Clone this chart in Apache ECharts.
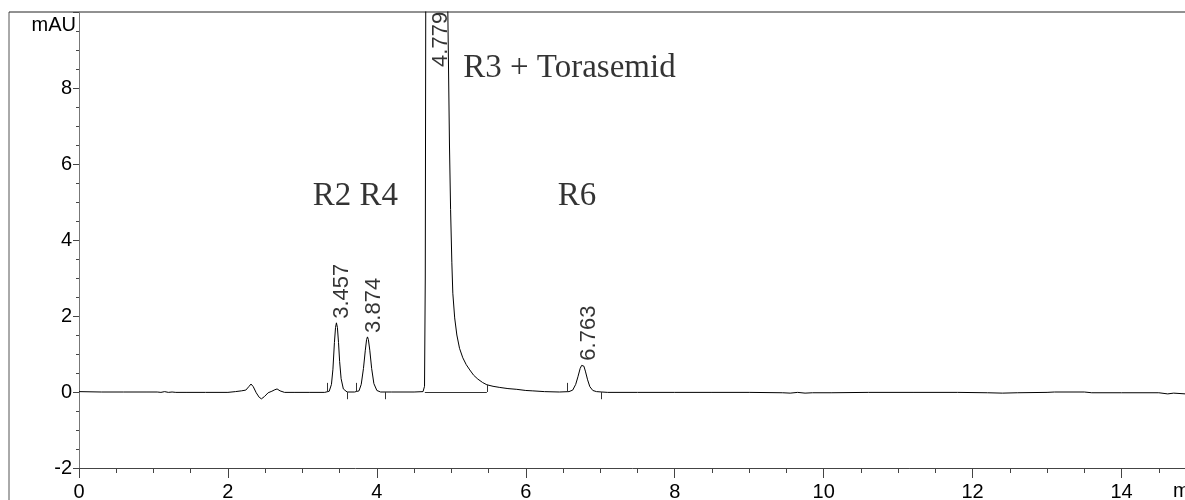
<!DOCTYPE html>
<html><head><meta charset="utf-8">
<script src="https://cdn.jsdelivr.net/npm/echarts@6/dist/echarts.min.js"></script>
<style>html,body{margin:0;padding:0;background:#fff}#c{width:1185px;height:500px}</style>
</head><body><div id="c"></div>
<script>
// Chromatogram trace (time in min, signal in mAU)
const traceTime = [0,0.3,0.6,0.9,1.05,1.1,1.15,1.2,1.25,1.3,1.45,1.7,2.0,2.1,2.18,2.24,2.28,2.31,2.34,2.38,2.42,2.45,2.49,2.54,2.59,2.63,2.66,2.70,2.76,2.9,3.1,3.3,
  3.36,3.39,3.41,3.43,3.445,3.457,3.47,3.485,3.50,3.52,3.55,3.60,3.70,
  3.76,3.79,3.82,3.845,3.862,3.874,3.886,3.905,3.93,3.96,4.00,4.05,4.2,4.5,
  4.62,4.64,4.65,4.66,4.72,4.779,4.85,4.92,4.953,4.975,4.99,5.007,5.02,5.045,5.074,5.11,5.154,5.2,5.248,5.3,5.356,5.42,5.477,5.56,5.651,5.76,5.879,6.0,6.094,6.25,6.45,
  6.58,6.63,6.67,6.70,6.73,6.75,6.763,6.78,6.80,6.83,6.86,6.9,6.95,7.02,7.1,
  7.5,8.0,8.5,9.0,9.45,9.55,9.65,9.75,9.85,10.1,10.6,11.2,11.8,12.2,12.4,12.6,13.0,13.1,13.5,13.6,14.0,14.5,14.62,14.7,14.86];
const traceSignal = [0.01,0,0,0,0,-0.01,0.01,-0.01,0,-0.01,-0.01,-0.01,-0.01,0.01,0.03,0.05,0.14,0.21,0.14,-0.02,-0.14,-0.18,-0.12,-0.02,0.02,0.06,0.08,0.03,-0.01,-0.01,-0.01,-0.01,
  0.02,0.2,0.6,1.3,1.7,1.82,1.7,1.3,0.8,0.35,0.08,0,0,
  0.03,0.2,0.62,1.1,1.38,1.45,1.38,1.1,0.62,0.22,0.04,0,0,0,
  0.01,0.15,3,14,45,55,40,16,10,6.5,4.8,3.4,2.6,1.95,1.5,1.15,0.9,0.72,0.58,0.44,0.34,0.25,0.19,0.15,0.12,0.09,0.07,0.04,0.03,0.01,0,
  0.01,0.05,0.2,0.4,0.62,0.70,0.72,0.68,0.55,0.32,0.14,0.04,0.01,0,-0.01,
  -0.01,-0.01,-0.01,-0.01,-0.02,-0.03,-0.01,-0.03,-0.02,-0.02,-0.01,-0.01,-0.01,-0.02,-0.03,-0.02,-0.01,0,0,-0.02,-0.02,-0.02,-0.05,-0.03,-0.05];

// Peak retention-time labels
const peakTimes = [3.457, 3.874, 4.779, 6.763];
const peakLabelY = [1.82, 1.45, 8.45, 0.72];

// Compound annotations
const annotationText = ['R2 R4', 'R3 + Torasemid', 'R6'];
const annotationTime = [3.14, 5.16, 6.43];
const annotationY = [5.15, 8.53, 5.15];

// Integration markers
const startTickTimes = [3.34, 3.72, 6.55];
const endTickTimes = [3.60, 4.11, 7.01];
const mainBaseStart = 4.644, mainBaseEnd = 5.477, mainBaseEndY = 0.19;

// Axes
const xMin = 0, xMax = 15, xInterval = 2;
const yMin = -2, yMax = 10, yInterval = 2;

const trace = traceTime.map((t, i) => [t, traceSignal[i]]);
const markSegs = [];
startTickTimes.forEach(t => markSegs.push([{coord: [t, 0]}, {coord: [t, 0.24]}]));
endTickTimes.forEach(t => markSegs.push([{coord: [t, 0]}, {coord: [t, -0.19]}]));
markSegs.push([{coord: [mainBaseStart, 0]}, {coord: [mainBaseEnd, 0]}]);
markSegs.push([{coord: [mainBaseEnd, 0]}, {coord: [mainBaseEnd, mainBaseEndY]}]);

const axisColor = '#444';
const chart = echarts.init(document.getElementById('c'), null, {renderer: 'canvas'});
chart.setOption({
  animation: false,
  backgroundColor: '#fff',
  grid: {left: 79, width: 1117, top: 12, bottom: 32, containLabel: false, outerBoundsMode: 'none'},
  xAxis: {
    type: 'value', min: xMin, max: xMax, interval: xInterval,
    axisLine: {show: true, onZero: false, lineStyle: {color: axisColor, width: 1}},
    axisTick: {show: true, length: 10, lineStyle: {color: axisColor}},
    minorTick: {show: true, splitNumber: 4, length: 5, lineStyle: {color: axisColor}},
    splitLine: {show: false},
    axisLabel: {fontSize: 20, color: '#000', fontFamily: 'Liberation Sans', margin: 14, showMaxLabel: false}
  },
  yAxis: {
    type: 'value', min: yMin, max: yMax, interval: yInterval,
    axisLine: {show: true, onZero: false, lineStyle: {color: '#777', width: 1}},
    axisTick: {show: true, length: 6, lineStyle: {color: axisColor}},
    minorTick: {show: true, splitNumber: 4, length: 3, lineStyle: {color: axisColor}},
    splitLine: {show: false},
    axisLabel: {fontSize: 20, color: '#000', fontFamily: 'Liberation Sans', margin: 7,
      formatter: v => (v === yMax ? '' : String(v))}
  },
  graphic: [
    {type: 'line', shape: {x1: 9, y1: 12, x2: 9, y2: 500}, style: {stroke: '#555', lineWidth: 1}},
    {type: 'line', shape: {x1: 9, y1: 12, x2: 1185, y2: 12}, style: {stroke: '#222', lineWidth: 1}},
    {type: 'text', x: 76, y: 15, style: {text: 'mAU', font: '20px "Liberation Sans"', fill: '#000', align: 'right', verticalAlign: 'top'}},
    {type: 'text', x: 1173, y: 481, style: {text: 'min', font: '20px "Liberation Sans"', fill: '#000', align: 'left', verticalAlign: 'top'}}
  ],
  series: [
    {
      type: 'line', data: trace, showSymbol: false, symbol: 'none', clip: true,
      lineStyle: {color: '#000', width: 1}, z: 3,
      markLine: {silent: true, symbol: ['none', 'none'], label: {show: false},
        lineStyle: {color: '#333', width: 1, type: 'solid'}, data: markSegs}
    },
    {
      type: 'scatter', symbolSize: 0, silent: true, z: 4,
      data: peakTimes.map((t, i) => [t, peakLabelY[i]]),
      label: {show: true, position: 'top', distance: 4, rotate: 90, align: 'left', verticalAlign: 'middle',
        offset: [0, 6],
        fontSize: 22, fontFamily: 'Liberation Sans', color: '#000',
        formatter: p => peakTimes[p.dataIndex].toFixed(3)}
    },
    {
      type: 'scatter', symbolSize: 0, silent: true, z: 4,
      data: annotationTime.map((t, i) => [t, annotationY[i]]),
      label: {show: true, position: 'right', distance: 0, align: 'left', verticalAlign: 'middle',
        fontSize: 33, fontFamily: 'Liberation Serif', color: '#000',
        formatter: p => annotationText[p.dataIndex]}
    }
  ]
});
</script></body></html>
